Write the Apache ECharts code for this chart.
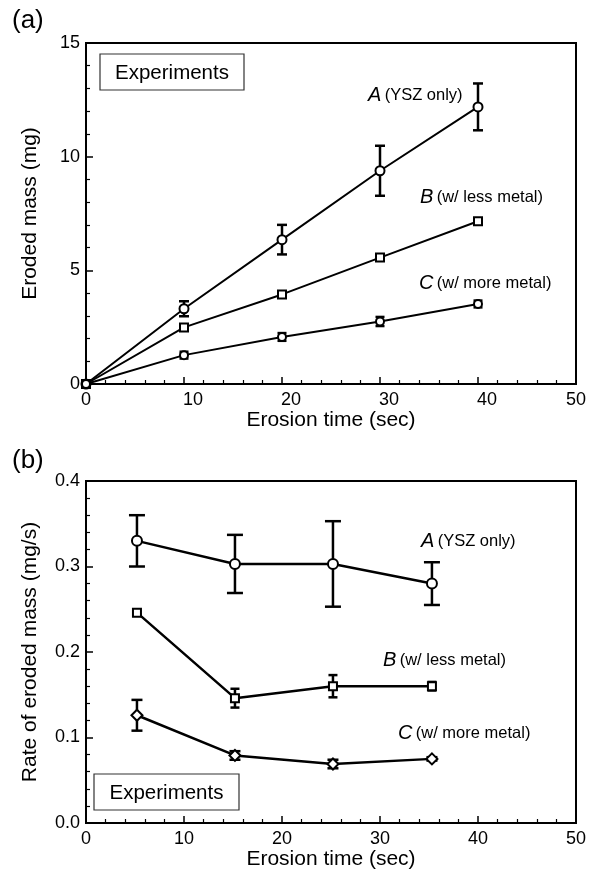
<!DOCTYPE html>
<html><head><meta charset="utf-8">
<script src="https://cdn.jsdelivr.net/npm/echarts@6/dist/echarts.min.js"></script>
<style>html,body{margin:0;padding:0;background:#fff}#c{width:602px;height:879px}</style>
</head><body><div id="c"></div>
<script>
// ---- Panel (a): eroded mass vs erosion time ----
const timeA = [0, 10, 20, 30, 40];
const massA = [0, 3.31, 6.35, 9.38, 12.19];
const massAErr = [0, 0.33, 0.65, 1.10, 1.03];
const massB = [0, 2.49, 3.94, 5.56, 7.16];
const massBErr = [0, 0.10, 0.10, 0.10, 0.10];
const massC = [0, 1.27, 2.07, 2.75, 3.52];
const massCErr = [0, 0.15, 0.17, 0.20, 0.15];

// ---- Panel (b): rate of eroded mass vs erosion time ----
const timeB = [5.2, 15.2, 25.2, 35.3];
const rateA = [0.330, 0.303, 0.303, 0.280];
const rateAErr = [0.030, 0.034, 0.050, 0.025];
const rateB = [0.246, 0.146, 0.160, 0.160];
const rateBErr = [0.002, 0.011, 0.013, 0.005];
const rateC = [0.126, 0.079, 0.069, 0.075];
const rateCErr = [0.018, 0.005, 0.005, 0.002];

const seriesLabels = [
  ['A', '(YSZ only)'],
  ['B', '(w/ less metal)'],
  ['C', '(w/ more metal)']
];
const boxText = 'Experiments';
const xName = 'Erosion time (sec)';
const yNameA = 'Eroded mass (mg)';
const yNameB = 'Rate of eroded mass (mg/s)';

const FONT = '"Liberation Sans", Arial, Helvetica, sans-serif';

function pairs(xs, ys) { return xs.map((x, i) => [x, ys[i]]); }
function errData(xs, ys, es) { return xs.map((x, i) => [x, ys[i] - es[i], ys[i] + es[i]]); }

function errRender(capW, lw) {
  return function (params, api) {
    const x = api.value(0), lo = api.value(1), hi = api.value(2);
    if (!(hi - lo > 0)) return null;
    const p1 = api.coord([x, hi]), p2 = api.coord([x, lo]);
    const st = { stroke: '#000', lineWidth: lw, fill: null };
    return {
      type: 'group', children: [
        { type: 'line', shape: { x1: p1[0], y1: p1[1], x2: p2[0], y2: p2[1] }, style: st },
        { type: 'line', shape: { x1: p1[0] - capW / 2, y1: p1[1], x2: p1[0] + capW / 2, y2: p1[1] }, style: st },
        { type: 'line', shape: { x1: p2[0] - capW / 2, y1: p2[1], x2: p2[0] + capW / 2, y2: p2[1] }, style: st }
      ]
    };
  };
}

function errSeries(idx, data, capW, lw) {
  return {
    type: 'custom', xAxisIndex: idx, yAxisIndex: idx, data: data,
    encode: { x: 0, y: [1, 2] }, renderItem: errRender(capW, lw), z: 2, silent: true
  };
}
function lineSeries(idx, data, symbol, size, lw) {
  return {
    type: 'line', xAxisIndex: idx, yAxisIndex: idx, data: data,
    symbol: symbol, symbolSize: size, showSymbol: true, z: 5,
    lineStyle: { color: '#000', width: lw },
    itemStyle: { color: '#fff', borderColor: '#000', borderWidth: 2 },
    emphasis: { disabled: true }, silent: true
  };
}

function xAxisCfg(idx, shifted) {
  return {
    type: 'value', gridIndex: idx, min: 0, max: 50, interval: 10,
    name: xName, nameLocation: 'middle', nameGap: idx === 0 ? 25 : 23,
    nameTextStyle: { fontSize: 21, color: '#000', fontFamily: FONT },
    axisLine: { show: true, onZero: false, lineStyle: { color: '#000', width: 2 } },
    axisTick: { show: true, inside: true, length: 7, lineStyle: { color: '#000', width: 1.5 } },
    minorTick: { show: true, splitNumber: 5, length: 4, lineStyle: { color: '#000', width: 1.2 } },
    splitLine: { show: false },
    axisLabel: {
      fontSize: 18, color: '#000', fontFamily: FONT, margin: 7,
      formatter: shifted ? function (v) { return (v > 0 && v < 50) ? '{s|' + v + '}' : '{n|' + v + '}'; } : undefined,
      rich: shifted ? { s: { fontSize: 18, fontFamily: FONT, color: '#000', padding: [0, 0, 0, 18] }, n: { fontSize: 18, fontFamily: FONT, color: '#000' } } : undefined
    }
  };
}
function yAxisCfg(idx, max, interval, name, fmt) {
  return {
    type: 'value', gridIndex: idx, min: 0, max: max, interval: interval,
    name: name, nameLocation: 'middle', nameGap: 45,
    nameTextStyle: { fontSize: 21, color: '#000', fontFamily: FONT },
    axisLine: { show: true, onZero: false, lineStyle: { color: '#000', width: 2 } },
    axisTick: { show: true, inside: true, length: 7, lineStyle: { color: '#000', width: 1.5 } },
    minorTick: { show: true, splitNumber: idx === 0 ? 5 : 5, length: 4, lineStyle: { color: '#000', width: 1.2 } },
    splitLine: { show: false },
    axisLabel: { fontSize: 18, color: '#000', fontFamily: FONT, margin: 6, formatter: fmt }
  };
}

function labelText(x, y, lab) {
  return {
    type: 'text', x: x, y: y, z: 10,
    style: {
      text: '{i|' + lab[0] + '} {n|' + lab[1] + '}',
      verticalAlign: 'middle',
      rich: {
        i: { fontStyle: 'italic', fontSize: 20, fontFamily: FONT, fill: '#000', lineHeight: 24, verticalAlign: 'bottom' },
        n: { fontSize: 16.5, fontFamily: FONT, fill: '#000', lineHeight: 24, verticalAlign: 'bottom', padding: [0, 0, 1, 0] }
      }
    }
  };
}
function boxGroup(x, y, w, h) {
  return {
    type: 'group', x: x, y: y, z: 10, children: [
      { type: 'rect', shape: { x: 0, y: 0, width: w, height: h }, style: { fill: '#fff', stroke: '#333', lineWidth: 1.2 } },
      { type: 'text', x: w / 2, y: h / 2 + 1, style: { text: boxText, fontSize: 20.5, fontFamily: FONT, fill: '#000', align: 'center', verticalAlign: 'middle' } }
    ]
  };
}

const chart = echarts.init(document.getElementById('c'), null, { renderer: 'canvas' });
chart.setOption({
  animation: false,
  backgroundColor: '#fff',
  grid: [
    { left: 86, right: 26, top: 43, height: 341, show: true, borderColor: '#000', borderWidth: 2, backgroundColor: 'transparent' },
    { left: 86, right: 26, top: 481, height: 342, show: true, borderColor: '#000', borderWidth: 2, backgroundColor: 'transparent' }
  ],
  xAxis: [xAxisCfg(0, true), xAxisCfg(1, false)],
  yAxis: [
    yAxisCfg(0, 15, 5, yNameA, function (v) { return String(v); }),
    yAxisCfg(1, 0.4, 0.1, yNameB, function (v) { return v.toFixed(1); })
  ],
  series: [
    errSeries(0, errData(timeA, massA, massAErr), 10, 2.5),
    errSeries(0, errData(timeA, massB, massBErr), 9, 2.5),
    errSeries(0, errData(timeA, massC, massCErr), 9, 2.5),
    lineSeries(0, pairs(timeA, massA), 'circle', 9, 2),
    lineSeries(0, pairs(timeA, massB), 'rect', 8, 2),
    lineSeries(0, pairs(timeA, massC), 'circle', 8, 2),
    errSeries(1, errData(timeB, rateA, rateAErr), 16, 2.5),
    errSeries(1, errData(timeB, rateB, rateBErr), 9, 2.5),
    errSeries(1, errData(timeB, rateC, rateCErr), 11, 2.5),
    lineSeries(1, pairs(timeB, rateA), 'circle', 10, 2.5),
    lineSeries(1, pairs(timeB, rateB), 'rect', 8, 2.5),
    lineSeries(1, pairs(timeB, rateC), 'diamond', 11, 2.5)
  ],
  graphic: [
    { type: 'text', x: 12, y: 21, style: { text: '(a)', fontSize: 26, fontFamily: FONT, fill: '#000', verticalAlign: 'middle' } },
    { type: 'text', x: 12, y: 461, style: { text: '(b)', fontSize: 26, fontFamily: FONT, fill: '#000', verticalAlign: 'middle' } },
    boxGroup(100, 54, 144, 36),
    boxGroup(94, 774, 145, 36),
    labelText(368, 93, seriesLabels[0]),
    labelText(420, 195, seriesLabels[1]),
    labelText(419, 281, seriesLabels[2]),
    labelText(421, 539, seriesLabels[0]),
    labelText(383, 658, seriesLabels[1]),
    labelText(398, 731, seriesLabels[2])
  ]
});
</script>
</body></html>
